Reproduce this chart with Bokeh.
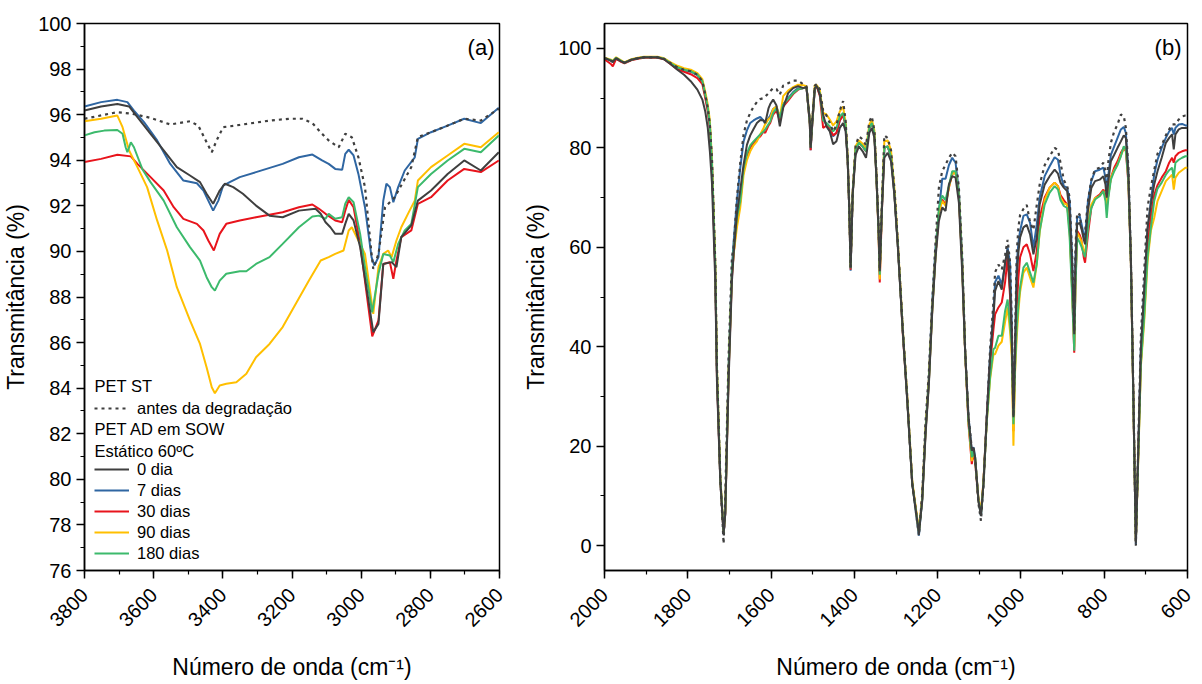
import math
from bokeh.plotting import figure
from bokeh.models import Range1d, Legend, LegendItem, Label, SingleIntervalTicker
from bokeh.layouts import row
from bokeh.embed import file_html
from bokeh.resources import INLINE

# ---------------- Panel (a) data: 3800-2600 cm-1 ----------------
wa_antes = [3800, 3705, 3662, 3609, 3552, 3495, 3471, 3447, 3432, 3418, 3399, 3351, 3265, 3208, 3170, 3141, 3113, 3094,
            3065, 3046, 3027, 3008, 2989, 2970, 2965, 2950, 2931, 2903, 2855, 2836, 2798, 2750, 2702, 2654, 2602]
ta_antes = [95.82, 96.11, 96.04, 95.86, 95.57, 95.71, 95.52, 94.79, 94.35, 94.87, 95.45, 95.55, 95.74, 95.82, 95.82, 95.63,
            95.16, 94.87, 94.57, 95.16, 95.01, 94.13, 92.82, 89.89, 89.23, 89.89, 91.94, 92.38, 93.70, 95.01, 95.23, 95.52,
            95.82, 95.74, 96.26]

wa_0 = [3800, 3752, 3705, 3671, 3647, 3609, 3571, 3533, 3495, 3466, 3447, 3428, 3409, 3394, 3370, 3342, 3304, 3265, 3227,
        3180, 3132, 3117, 3103, 3089, 3075, 3055, 3046, 3036, 3022, 3003, 2979, 2965, 2950, 2936, 2912, 2898, 2884, 2855,
        2836, 2798, 2750, 2702, 2654, 2602]
ta_0 = [96.18, 96.36, 96.47, 96.36, 95.89, 95.16, 94.43, 93.70, 93.33, 93.04, 92.53, 92.09, 92.67, 92.97, 92.82, 92.53,
        92.01, 91.57, 91.50, 91.79, 91.87, 91.65, 91.28, 91.06, 90.77, 90.77, 91.21, 91.65, 91.36, 90.19, 87.85, 86.46,
        86.82, 89.45, 89.53, 89.31, 90.63, 91.14, 92.23, 92.67, 93.40, 93.99, 93.55, 94.35]

wa_7 = [3800, 3752, 3705, 3676, 3657, 3628, 3590, 3552, 3514, 3475, 3456, 3442, 3428, 3413, 3399, 3380, 3351, 3304, 3227,
        3180, 3141, 3113, 3094, 3075, 3055, 3046, 3036, 3022, 3008, 2989, 2970, 2962, 2950, 2936, 2927, 2917, 2907, 2893,
        2874, 2845, 2836, 2798, 2750, 2702, 2654, 2602]
ta_7 = [96.36, 96.55, 96.65, 96.55, 96.18, 95.67, 94.87, 93.84, 93.11, 92.99, 92.67, 92.23, 91.79, 92.23, 92.89, 93.04,
        93.26, 93.48, 93.84, 94.13, 94.25, 93.99, 93.84, 93.62, 93.58, 94.28, 94.46, 94.21, 93.40, 91.94, 89.75, 89.38,
        89.75, 92.23, 92.97, 92.82, 92.16, 92.82, 93.55, 94.13, 94.94, 95.23, 95.52, 95.82, 95.63, 96.30]

wa_30 = [3800, 3752, 3705, 3666, 3647, 3609, 3571, 3542, 3514, 3475, 3456, 3442, 3426, 3409, 3390, 3351, 3304, 3227, 3180,
         3141, 3122, 3103, 3075, 3055, 3046, 3036, 3022, 3003, 2979, 2968, 2950, 2936, 2917, 2907, 2898, 2884, 2855, 2836,
         2798, 2750, 2702, 2654, 2602]
ta_30 = [93.92, 94.06, 94.24, 94.17, 93.84, 93.26, 92.67, 91.94, 91.43, 91.21, 90.92, 90.48, 90.04, 90.77, 91.21, 91.36,
         91.50, 91.72, 91.94, 92.06, 91.87, 91.65, 91.36, 91.28, 91.79, 92.26, 91.94, 90.33, 87.55, 86.27, 86.97, 89.45,
         89.53, 88.80, 89.60, 90.63, 90.92, 92.09, 92.38, 93.11, 93.62, 93.48, 93.99]

wa_90 = [3800, 3752, 3705, 3690, 3671, 3647, 3619, 3590, 3561, 3533, 3495, 3466, 3447, 3432, 3423, 3409, 3390, 3361, 3332,
         3304, 3265, 3227, 3189, 3151, 3117, 3094, 3075, 3051, 3036, 3027, 3008, 2989, 2977, 2965, 2950, 2936, 2922, 2912,
         2898, 2884, 2860, 2845, 2836, 2798, 2750, 2702, 2654, 2602]
ta_90 = [95.71, 95.82, 95.96, 95.45, 94.43, 93.70, 92.82, 91.36, 90.04, 88.43, 86.97, 85.94, 84.92, 84.04, 83.78, 84.12,
         84.19, 84.26, 84.63, 85.36, 85.94, 86.68, 87.70, 88.72, 89.60, 89.75, 89.89, 90.04, 90.92, 91.06, 90.48, 89.89,
         88.58, 87.26, 89.31, 89.89, 90.04, 89.75, 90.48, 91.06, 91.79, 92.23, 93.11, 93.70, 94.21, 94.72, 94.57, 95.23]

wa_180 = [3800, 3771, 3743, 3705, 3690, 3681, 3676, 3666, 3657, 3633, 3609, 3571, 3533, 3495, 3466, 3447, 3432, 3423, 3409,
          3390, 3351, 3332, 3304, 3265, 3227, 3180, 3141, 3122, 3103, 3094, 3075, 3055, 3046, 3036, 3022, 3003, 2989, 2968,
          2950, 2936, 2917, 2907, 2893, 2874, 2855, 2836, 2798, 2750, 2702, 2654, 2602]
ta_180 = [95.09, 95.23, 95.30, 95.33, 95.16, 94.57, 94.35, 94.79, 94.57, 93.62, 93.04, 92.23, 91.06, 90.19, 89.60, 88.87,
          88.43, 88.28, 88.72, 89.02, 89.13, 89.13, 89.45, 89.75, 90.33, 91.06, 91.53, 91.57, 91.43, 91.65, 91.43, 91.50,
          92.09, 92.38, 92.16, 90.77, 89.31, 87.33, 89.02, 89.89, 89.82, 89.53, 90.33, 90.92, 91.21, 92.82, 93.40, 93.99,
          94.50, 94.35, 95.09]

# ---------------- Panel (b) data: 2000-600 cm-1 ----------------
wb = [2000, 1992, 1984, 1980, 1972, 1960, 1952, 1936, 1920, 1905,
      1873, 1857, 1841, 1825, 1809, 1793, 1777, 1765, 1758, 1752,
      1747, 1742, 1734, 1730, 1722, 1714, 1710, 1702, 1694, 1690,
      1682, 1674, 1666, 1658, 1650, 1642, 1634, 1626, 1618, 1614,
      1606, 1602, 1595, 1587, 1579, 1571, 1559, 1547, 1535, 1523,
      1515, 1507, 1505, 1501, 1495, 1490, 1483, 1475, 1467, 1459,
      1451, 1443, 1435, 1427, 1421, 1416, 1412, 1409, 1404, 1397,
      1389, 1380, 1372, 1364, 1358, 1352, 1347, 1342, 1339, 1334,
      1328, 1320, 1312, 1304, 1300, 1296, 1288, 1284, 1273, 1261,
      1245, 1237, 1229, 1221, 1213, 1205, 1197, 1189, 1181, 1173,
      1165, 1157, 1149, 1141, 1134, 1126, 1118, 1114, 1110, 1102,
      1096, 1090, 1082, 1074, 1066, 1062, 1054, 1046, 1038, 1032,
      1026, 1022, 1018, 1014, 1010, 1006, 1002, 994, 986, 978,
      970, 962, 955, 943, 931, 919, 911, 905, 897, 889,
      883, 877, 872, 869, 865, 859, 855, 849, 846, 839,
      831, 822, 811, 802, 797, 794, 790, 784, 776, 768,
      760, 753, 748, 742, 736, 730, 724, 718, 712, 704,
      696, 688, 680, 672, 662, 652, 644, 637, 633, 629,
      621, 613, 605, 600]

tb_0 = [98.0, 97.8, 97.5, 97.3, 98.0, 97.4, 97.1, 97.7, 98.0, 98.2,
        98.2, 97.8, 96.8, 95.7, 94.7, 93.4, 91.7, 89.7, 87.3, 84.0,
        79.3, 73.0, 53.2, 33.1, 13.1, 2.4, 6.4, 33.1, 53.2, 58.5,
        66.7, 71.5, 76.6, 80.6, 82.5, 83.8, 85.0, 85.6, 85.5, 85.0,
        88.0, 88.8, 89.7, 88.5, 84.3, 88.0, 91.0, 92.0, 92.4, 92.0,
        92.2, 85.3, 80.0, 85.3, 92.0, 92.4, 90.7, 86.7, 84.3, 83.3,
        80.7, 81.3, 84.0, 85.0, 83.3, 77.3, 67.3, 55.9, 70.6, 78.6,
        80.3, 79.3, 78.0, 83.0, 84.0, 82.0, 74.0, 63.9, 55.2, 67.3,
        78.0, 79.0, 77.3, 70.6, 65.5, 60.6, 49.2, 43.5, 29.1, 12.4,
        2.5, 9.0, 22.4, 32.5, 47.0, 58.0, 65.3, 68.0, 67.3, 72.6,
        74.3, 74.0, 69.0, 55.0, 39.2, 25.8, 19.1, 19.7, 17.7, 9.0,
        6.0, 12.4, 25.8, 37.8, 45.9, 51.2, 53.2, 51.5, 57.0, 59.5,
        51.2, 42.0, 25.8, 39.2, 54.0, 59.0, 62.0, 64.0, 64.5, 62.6,
        58.6, 61.9, 68.6, 72.6, 74.3, 75.6, 74.8, 73.0, 72.0, 71.3,
        67.0, 56.0, 42.5, 56.6, 64.6, 64.9, 63.9, 61.5, 60.6, 67.3,
        71.9, 73.3, 73.6, 74.3, 72.6, 70.0, 73.3, 77.3, 78.6, 80.0,
        81.3, 82.5, 82.0, 74.6, 57.9, 30.0, 0.5, 20.0, 39.2, 51.2,
        63.9, 68.6, 72.6, 75.3, 78.0, 81.0, 82.0, 82.7, 79.7, 82.7,
        83.7, 84.0, 84.0, 84.0]

tb_7 = [98.0, 97.8, 97.5, 97.3, 98.0, 97.4, 97.1, 97.7, 98.0, 98.2,
        98.2, 97.9, 97.0, 96.2, 95.6, 95.3, 94.6, 93.3, 90.6, 87.9,
        84.5, 77.0, 56.0, 35.0, 13.5, 2.2, 6.5, 36.0, 56.0, 61.0,
        69.3, 75.9, 81.3, 83.5, 85.0, 85.5, 85.9, 86.2, 85.5, 84.8,
        86.0, 86.5, 87.8, 88.3, 86.2, 88.8, 90.0, 91.2, 92.0, 92.0,
        92.2, 85.0, 79.5, 85.0, 92.0, 92.4, 91.0, 86.0, 84.5, 83.5,
        82.3, 83.0, 85.5, 86.7, 84.5, 77.5, 67.0, 55.3, 70.8, 79.8,
        81.0, 80.3, 79.3, 84.0, 85.0, 83.0, 74.5, 64.0, 55.0, 68.0,
        80.0, 80.3, 78.3, 71.0, 66.0, 61.0, 49.5, 43.5, 29.5, 12.5,
        2.0, 9.5, 23.5, 34.0, 49.0, 60.0, 67.0, 73.8, 73.8, 76.5,
        78.0, 77.0, 71.3, 57.5, 39.2, 26.0, 19.0, 19.8, 17.8, 9.2,
        6.0, 12.5, 26.0, 38.5, 47.0, 53.0, 54.3, 52.5, 56.6, 60.0,
        56.6, 44.5, 26.5, 40.0, 56.6, 61.0, 63.3, 66.3, 66.6, 64.9,
        59.9, 64.6, 70.0, 74.3, 76.3, 78.1, 77.6, 74.6, 72.3, 72.0,
        69.3, 57.9, 42.5, 57.9, 65.9, 66.3, 64.9, 62.5, 61.9, 69.3,
        73.3, 75.3, 75.6, 76.0, 74.0, 71.3, 74.6, 78.6, 80.3, 82.0,
        83.7, 84.2, 83.0, 75.3, 58.0, 30.0, 0.3, 20.0, 39.5, 51.2,
        63.3, 69.3, 74.6, 77.6, 80.0, 82.0, 83.3, 84.0, 82.7, 84.0,
        84.7, 84.8, 84.5, 84.5]

tb_30 = [97.8, 97.3, 96.8, 96.4, 97.9, 97.3, 97.0, 97.6, 97.9, 98.1,
         98.1, 97.8, 96.8, 95.8, 95.3, 94.8, 94.0, 92.8, 90.0, 87.3,
         84.0, 76.5, 55.0, 34.0, 13.3, 2.3, 6.5, 34.5, 54.0, 58.5,
         65.5, 69.0, 75.5, 78.5, 80.0, 81.0, 81.8, 82.3, 83.3, 83.0,
         84.5, 85.0, 86.7, 87.5, 85.5, 88.3, 89.5, 90.8, 91.7, 92.0,
         92.2, 84.8, 79.5, 84.8, 92.0, 92.3, 90.5, 84.0, 84.5, 84.0,
         82.5, 83.0, 85.5, 86.5, 84.5, 77.5, 67.0, 55.5, 70.8, 79.8,
         81.0, 80.3, 79.3, 84.0, 85.0, 83.0, 74.0, 63.0, 52.9, 67.0,
         80.0, 80.3, 78.3, 71.0, 66.0, 61.0, 49.5, 43.0, 29.5, 12.5,
         2.8, 9.5, 23.0, 33.0, 47.5, 58.5, 67.0, 69.6, 68.6, 72.0,
         74.8, 75.0, 70.0, 56.5, 39.0, 24.5, 16.4, 18.5, 17.0, 9.0,
         6.5, 12.8, 25.5, 36.5, 43.5, 46.5, 47.9, 48.9, 53.0, 58.0,
         50.0, 41.0, 23.0, 38.0, 48.0, 53.9, 58.0, 60.0, 60.6, 58.6,
         55.2, 59.2, 65.9, 70.0, 72.0, 73.0, 72.3, 70.5, 69.5, 68.6,
         64.0, 52.0, 38.8, 53.0, 63.3, 62.5, 61.6, 57.9, 56.9, 62.6,
         67.9, 69.9, 70.6, 71.6, 70.6, 68.0, 70.6, 74.0, 76.0, 77.3,
         79.0, 80.0, 79.3, 73.0, 57.0, 29.0, 0.8, 19.0, 37.0, 47.0,
         60.0, 66.3, 70.5, 72.5, 74.0, 75.3, 77.0, 78.0, 77.0, 78.3,
         79.0, 79.3, 79.5, 79.5]

tb_90 = [98.1, 97.9, 97.7, 97.5, 98.2, 97.6, 97.2, 97.8, 98.1, 98.3,
         98.3, 98.0, 97.2, 96.5, 96.0, 95.7, 95.0, 93.8, 91.3, 88.7,
         85.5, 78.0, 57.0, 36.0, 14.0, 2.6, 7.0, 35.0, 54.5, 58.5,
         64.0, 68.0, 74.6, 77.5, 79.3, 80.5, 81.3, 82.7, 84.0, 84.8,
         85.8, 86.0, 87.8, 88.3, 86.0, 90.4, 91.5, 92.2, 92.7, 92.6,
         92.4, 85.5, 80.5, 85.5, 92.6, 92.6, 91.6, 87.0, 86.7, 85.7,
         84.5, 85.3, 87.3, 88.3, 85.0, 78.0, 67.5, 56.0, 71.0, 80.3,
         81.5, 80.8, 79.8, 84.7, 85.7, 83.5, 74.5, 63.5, 53.5, 68.0,
         81.3, 81.5, 79.5, 72.0, 67.0, 61.5, 50.0, 44.0, 30.0, 13.0,
         3.0, 9.8, 23.5, 33.5, 47.5, 58.5, 67.0, 69.3, 68.3, 72.0,
         74.8, 75.0, 70.5, 56.5, 39.0, 25.0, 17.0, 18.8, 17.5, 9.5,
         6.8, 13.0, 25.0, 33.5, 38.5, 38.5, 40.2, 41.0, 45.0, 47.9,
         43.0, 38.0, 20.1, 35.0, 42.0, 47.2, 51.0, 54.9, 55.9, 53.9,
         51.9, 56.6, 63.0, 69.5, 72.0, 73.0, 72.3, 70.0, 68.8, 68.6,
         63.0, 51.0, 40.0, 52.5, 62.9, 62.0, 61.3, 59.2, 58.6, 64.6,
         68.6, 69.9, 70.3, 71.3, 70.0, 68.6, 70.5, 74.0, 75.5, 76.6,
         78.5, 79.8, 80.0, 74.0, 57.5, 29.5, 1.0, 18.0, 36.0, 45.0,
         57.0, 63.3, 65.9, 69.3, 71.3, 73.3, 74.0, 74.6, 71.6, 74.0,
         75.0, 75.5, 76.0, 76.0]

tb_180 = [98.0, 97.8, 97.6, 97.4, 98.1, 97.5, 97.1, 97.7, 98.0, 98.2,
          98.2, 97.9, 97.0, 96.2, 95.7, 95.4, 94.7, 93.4, 90.7, 88.0,
          84.7, 77.0, 56.0, 35.0, 13.5, 2.5, 6.8, 35.0, 55.0, 59.5,
          66.0, 69.3, 75.9, 78.9, 80.5, 81.3, 82.0, 82.7, 83.3, 83.7,
          84.8, 85.3, 87.0, 88.0, 86.0, 88.7, 89.8, 91.0, 91.8, 92.0,
          92.2, 85.0, 80.0, 85.0, 92.0, 92.4, 91.0, 85.5, 85.0, 84.3,
          83.3, 84.0, 86.3, 87.0, 84.5, 77.5, 67.2, 55.8, 70.8, 79.8,
          81.0, 80.3, 79.3, 84.0, 85.0, 83.0, 74.0, 63.5, 54.5, 67.5,
          80.0, 80.3, 78.3, 71.0, 66.0, 61.0, 49.5, 43.5, 29.5, 12.5,
          2.6, 9.3, 23.0, 33.0, 47.5, 58.5, 67.9, 70.4, 69.5, 72.4,
          75.3, 75.3, 70.6, 56.5, 39.2, 25.0, 17.8, 19.0, 17.5, 9.0,
          6.2, 12.5, 25.0, 34.0, 39.5, 39.8, 42.2, 42.2, 47.2, 49.5,
          44.5, 40.0, 24.4, 36.0, 44.0, 48.5, 52.0, 55.9, 56.9, 54.9,
          52.9, 56.6, 63.3, 68.6, 71.0, 72.3, 71.6, 69.5, 68.3, 67.9,
          62.0, 50.0, 39.2, 52.0, 61.9, 61.0, 60.2, 58.6, 58.0, 63.9,
          67.9, 69.6, 70.3, 71.3, 69.3, 65.9, 70.0, 73.6, 75.3, 76.6,
          78.3, 80.3, 79.6, 73.5, 57.0, 29.0, 0.8, 18.5, 36.5, 46.0,
          58.0, 63.9, 69.3, 71.8, 73.0, 74.6, 75.5, 76.0, 73.9, 77.0,
          77.6, 78.0, 78.3, 78.3]

tb_antes = [98.0, 97.8, 97.5, 97.3, 98.0, 97.4, 97.1, 97.7, 98.0, 98.2,
            98.2, 97.9, 97.0, 96.2, 95.7, 95.4, 94.7, 93.4, 90.7, 88.0,
            84.7, 78.0, 57.0, 36.0, 14.0, 0.4, 10.0, 38.0, 58.0, 60.0,
            70.0, 77.0, 82.7, 85.5, 87.0, 88.3, 89.2, 89.8, 90.0, 90.3,
            91.0, 91.4, 92.0, 91.8, 90.7, 92.5, 93.0, 93.5, 93.5, 92.8,
            92.4, 85.5, 80.5, 85.5, 92.5, 92.8, 91.8, 87.5, 86.5, 85.0,
            83.3, 84.5, 87.5, 89.4, 85.5, 78.0, 67.5, 56.0, 71.0, 80.5,
            82.3, 81.7, 80.5, 85.3, 86.3, 83.5, 75.0, 64.5, 55.5, 68.5,
            82.5, 82.0, 79.5, 72.0, 67.0, 61.5, 50.0, 44.0, 30.0, 12.5,
            2.0, 10.5, 25.0, 35.0, 49.0, 61.0, 72.0, 75.3, 76.6, 78.0,
            79.0, 78.3, 72.0, 58.0, 39.5, 26.0, 19.5, 20.0, 17.5, 8.5,
            5.0, 12.0, 26.0, 39.5, 49.0, 55.0, 56.5, 55.5, 58.5, 61.5,
            57.0, 45.0, 26.0, 42.0, 59.0, 64.0, 66.5, 67.7, 68.5, 65.0,
            63.5, 68.5, 72.6, 76.5, 78.3, 80.0, 79.5, 77.0, 73.5, 72.3,
            70.0, 58.0, 43.0, 60.0, 66.9, 66.6, 64.0, 62.5, 63.0, 69.3,
            73.6, 75.6, 76.0, 77.0, 75.3, 73.0, 77.3, 81.0, 83.3, 84.7,
            86.7, 86.4, 84.0, 76.0, 58.0, 31.0, 0.0, 21.0, 42.0, 55.0,
            68.0, 72.0, 75.5, 78.8, 80.5, 82.5, 83.7, 84.7, 84.7, 84.7,
            85.7, 86.3, 86.5, 86.5]

labels = ["0 dia", "7 dias", "30 dias", "90 dias", "180 dias"]
colors = {"0": "#3f3f3f", "7": "#2f66a2", "30": "#e8141c", "90": "#ffbf00", "180": "#3cba6c", "antes": "#3f3f3f"}

FONT = "Liberation Sans"
LW = 2.0


def make_fig(width, xr, yr, xint, yint, left, right):
    p = figure(width=width, height=684, x_range=Range1d(*xr), y_range=Range1d(*yr),
               output_backend="svg", toolbar_location=None,
               min_border_left=left, min_border_right=right, min_border_top=23, min_border_bottom=114)
    p.background_fill_color = "white"
    p.border_fill_color = "white"
    p.outline_line_color = "black"
    p.outline_line_width = 1.5
    p.xgrid.visible = False
    p.ygrid.visible = False
    p.xaxis.ticker = SingleIntervalTicker(interval=xint, num_minor_ticks=2)
    p.yaxis.ticker = SingleIntervalTicker(interval=yint, num_minor_ticks=2)
    for ax in (p.xaxis[0], p.yaxis[0]):
        ax.axis_line_width = 1.5
        ax.axis_line_color = "black"
        ax.major_tick_line_width = 1.5
        ax.minor_tick_line_width = 1.2
        ax.major_tick_in = 0
        ax.major_tick_out = 8
        ax.minor_tick_in = 0
        ax.minor_tick_out = 4
        ax.major_label_text_font = FONT
        ax.major_label_text_font_size = "20px"
        ax.major_label_text_color = "black"
        ax.axis_label_text_font = FONT
        ax.axis_label_text_font_size = "23px"
        ax.axis_label_text_font_style = "normal"
        ax.axis_label_text_color = "black"
    p.xaxis.major_label_orientation = math.pi / 4
    p.xaxis.major_label_standoff = 13
    p.xaxis.axis_label = "Número de onda (cm⁻¹)"
    p.yaxis.axis_label = "Transmitância (%)"
    p.xaxis.axis_label_standoff = 18
    p.yaxis.axis_label_standoff = 6
    return p


# ---------------- Panel (a) ----------------
p1 = make_fig(520, (3800, 2600), (76, 100), 200, 2, 80, 21)
r7 = p1.line(wa_7, ta_7, line_color=colors["7"], line_width=LW)
r30 = p1.line(wa_30, ta_30, line_color=colors["30"], line_width=LW)
r90 = p1.line(wa_90, ta_90, line_color=colors["90"], line_width=LW)
r180 = p1.line(wa_180, ta_180, line_color=colors["180"], line_width=LW)
r0 = p1.line(wa_0, ta_0, line_color=colors["0"], line_width=LW)
ra = p1.line(wa_antes, ta_antes, line_color=colors["antes"], line_width=2.2, line_dash="3 4")


def legend_style(lg):
    lg.padding = 0
    lg.margin = 0
    lg.spacing = 1
    lg.border_line_alpha = 0
    lg.background_fill_alpha = 0
    lg.glyph_width = 35
    lg.glyph_height = 20
    lg.label_height = 20
    lg.label_standoff = 8
    lg.label_text_font = FONT
    lg.label_text_font_size = "16.5px"
    lg.label_text_color = "black"


leg_antes = Legend(items=[LegendItem(label="antes da degradação", renderers=[ra])], location=(10, 152))
legend_style(leg_antes)
leg_days = Legend(items=[LegendItem(label=l, renderers=[r]) for l, r in zip(labels, [r0, r7, r30, r90, r180])],
                  location=(10, 7))
legend_style(leg_days)
p1.add_layout(leg_antes)
p1.add_layout(leg_days)

for txt, yy in [("PET ST", 185), ("PET AD em SOW", 142), ("Estático 60ºC", 120)]:
    p1.add_layout(Label(x=10, y=yy, x_units="screen", y_units="screen", text=txt, text_font=FONT,
                        text_font_size="16.5px", text_baseline="middle", text_align="left", text_color="black"))
p1.add_layout(Label(x=410, y=523, x_units="screen", y_units="screen", text="(a)", text_font=FONT,
                    text_font_size="22px", text_baseline="middle", text_align="right", text_color="black"))

# ---------------- Panel (b) ----------------
p2 = make_fig(682, (2000, 600), (-5, 105), 200, 20, 80, 15)
p2.line(wb, tb_7, line_color=colors["7"], line_width=LW)
p2.line(wb, tb_30, line_color=colors["30"], line_width=LW)
p2.line(wb, tb_90, line_color=colors["90"], line_width=LW)
p2.line(wb, tb_180, line_color=colors["180"], line_width=LW)
p2.line(wb, tb_0, line_color=colors["0"], line_width=LW)
p2.line(wb, tb_antes, line_color=colors["antes"], line_width=2.2, line_dash="3 4")
p2.add_layout(Label(x=577, y=523, x_units="screen", y_units="screen", text="(b)", text_font=FONT,
                    text_font_size="22px", text_baseline="middle", text_align="right", text_color="black"))

layout = row(p1, p2)
open("out.html", "w").write(file_html(layout, INLINE))
